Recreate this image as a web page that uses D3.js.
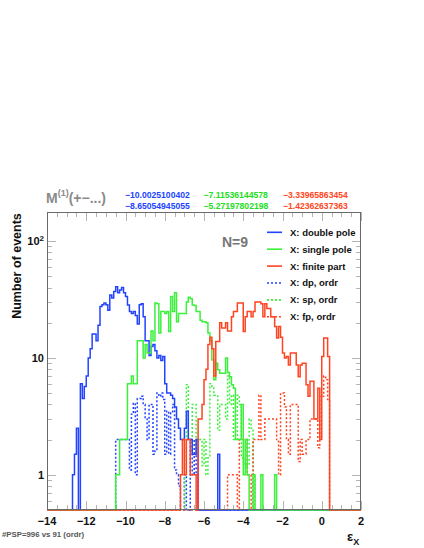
<!DOCTYPE html>
<html><head><meta charset="utf-8">
<script src="https://d3js.org/d3.v7.min.js"></script>
<style>
body{margin:0;background:#fff;}
text{font-family:"Liberation Sans",Arial,Helvetica,sans-serif;font-weight:bold;}
</style></head><body>
<svg id="chart" width="424" height="548"></svg>
<script>
// binning of the histograms
var xMin = -14, xMax = 2, binW = 0.1;
var xTicks = [-14, -12, -10, -8, -6, -4, -2, 0, 2];
var yTicks = [1, 10, 100];

// X: double pole
var dpStart = -12.7;
var dpCounts = [1, 1.5, 2.5, 0, 6, 4.5, 5.7, 7, 10, 12, 16, 16, 14, 19, 27.5, 28.5, 29.5, 28.5, 25.6, 34.5,
  32.5, 37, 40.6, 36, 38, 40, 36, 33.5, 28.4, 25, 24, 25, 23, 19.5, 28.5, 29, 22.5, 14, 14, 10.5,
  12.5, 13, 11.5, 10, 10.5, 9.5, 10.3, 6, 5, 5, 4.8, 4.5, 3.8, 3, 2.5, 2, 2, 2.5, 3.5, 2,
  2, 1.5, 1.5, 2, 0, 0, 0, 0, 0, 0, 0, 0, 0, 0, 1.5];
// X: single pole
var spStart = -10.5;
var spCounts = [1, 1, 2, 2, 2, 2, 6, 6, 7, 6,
  6, 14, 14, 14, 10, 13, 11, 11, 17, 14,
  29.5, 29, 16.3, 25, 25, 24, 25, 16.8, 33.5, 25,
  36, 20.4, 24, 24, 24, 24, 30, 33, 32, 28.4,
  28, 25, 25, 21, 20.4, 20.4, 20, 16.3, 14, 9.6,
  6.5, 9, 7.9, 7.4, 7.4, 7.4, 10, 7.5, 6.9, 5.9,
  5.5, 2, 2, 2, 4, 1, 2, 1, 0, 0,
  1, 0, 0, 0, 1, 0, 0, 0, 0, 0,
  0, 1];
// X: finite part
var fpStart = -7.2;
var fpCounts = [1, 2, 1, 2, 2, 1, 1, 1, 0, 3,
  3, 4, 6.5, 8, 13, 15, 12, 7, 13.8, 13.8,
  20, 18, 18, 20, 17, 17, 22.5, 25, 25, 29.5,
  29.5, 29.5, 16.8, 22.5, 25, 25, 22.5, 25, 30, 30,
  30, 29, 22.5, 29, 26.5, 26.5, 22.5, 22.5, 18.6, 14.8,
  18.6, 15, 11, 10, 10.3, 8.7, 11, 11, 11, 8.7,
  6.9, 8.7, 9, 9, 5.9, 4.7, 6.3, 6.3, 3, 3,
  5.5, 2, 10.3, 14.8, 14.8, 10.3];
// X: dp, ordr
var dpoStart = -10.5;
var dpoCounts = [2, 2, 2, 2, 2, 2, 2, 1.1, 3.3, 4.1,
  1, 4.5, 4.5, 4.7, 4, 3, 2, 4, 4, 1.5,
  1.6, 5, 4.7, 5, 4.4, 1.5, 3.5, 1.5, 3.4, 4,
  1.1, 1, 0.8, 0, 0, 1, 0, 0, 2, 1,
  2, 1];
// X: sp, ordr
var spoStart = -7.0;
var spoCounts = [1, 5.9, 2, 2, 4, 4, 1.5, 2, 2, 1.2,
  2, 1, 1.4, 6, 5.7, 4.8, 4.8, 2.4, 4, 4,
  4, 3, 7, 4, 4.8, 2, 2, 4.8, 4, 1.4,
  1.4, 1.2, 1.2, 3, 2.5, 1];
// X: fp, ordr
var fpoStart = -4.8;
var fpoCounts = [1, 1, 1, 1, 1, 0, 2, 2, 2, 2,
  1, 1, 0, 2, 2, 2, 4.8, 2, 2, 3,
  3, 3, 3, 3, 3, 2, 1, 5, 5, 3.8,
  2, 1.5, 4, 4, 4, 4, 1.3, 2, 1.5, 1.5,
  2, 2, 3, 3, 3, 3, 1.7, 4.7, 4.7, 7,
  6.5, 4.4];

var legendLabels = ["X: double pole", "X: single pole", "X: finite part", "X: dp, ordr", "X: sp, ordr", "X: fp, ordr"];
var headTop = ["\u221210.0025100402", "\u22127.11536144578", "\u22123.33965863454"];
var headBottom = ["\u22128.65054945055", "\u22125.27197802198", "\u22121.42362637363"];

var BLUE = "#2244ff", GREEN = "#3cf03c", RED = "#ff4422";
var L = 47, R = 361, T = 212, B = 510;

var svg = d3.select("#chart");
var x = d3.scaleLinear().domain([xMin, xMax]).range([L, R]);
var y = d3.scaleLog().domain([0.5, 177]).range([B, T]);

svg.append("rect").attr("width", 424).attr("height", 548).attr("fill", "#fff");

svg.append("clipPath").attr("id", "frame")
  .append("rect").attr("x", L).attr("y", T - 1).attr("width", R - L).attr("height", B - T + 2);

// step line over every bin, empty bins sit on the bottom of the frame
function histPath(start, counts) {
  var n = Math.round((xMax - xMin) / binW);
  var off = Math.round((start - xMin) / binW);
  var d = "";
  for (var i = 0; i < n; i++) {
    var v = (i >= off && i - off < counts.length) ? counts[i - off] : 0;
    var yy = v > 0.5 ? y(v) : B;
    var x0 = x(xMin + i * binW), x1 = x(xMin + (i + 1) * binW);
    d += (i == 0 ? "M" + x0.toFixed(2) + "," + yy.toFixed(2) : "V" + yy.toFixed(2)) + "H" + x1.toFixed(2);
  }
  return d;
}

// ticks
var tickCol = "#b4b4b4";
var g = svg.append("g").attr("stroke", tickCol).attr("stroke-width", 1);
for (var t = xMin; t <= xMax + 1e-9; t += 0.5) {
  var major = Math.abs(t % 2) < 1e-9;
  var len = major ? 9 : 5;
  var xx = Math.round(x(t)) + 0.5;
  g.append("line").attr("x1", xx).attr("x2", xx).attr("y1", B).attr("y2", B - len);
  g.append("line").attr("x1", xx).attr("x2", xx).attr("y1", T).attr("y2", T + len);
}
[0.1, 1, 10, 100].forEach(function (dec) {
  for (var k = 1; k < 10; k++) {
    var v = dec * k;
    if (v < 0.5 || v > 177) continue;
    var len = k == 1 ? 9 : 5;
    var yy = Math.round(y(v)) + 0.5;
    g.append("line").attr("x1", L).attr("x2", L + len).attr("y1", yy).attr("y2", yy);
    g.append("line").attr("x1", R).attr("x2", R - len).attr("y1", yy).attr("y2", yy);
  }
});

// histograms
var series = [
  {s: dpoStart, c: dpoCounts, col: BLUE, dash: "2,2"},
  {s: spoStart, c: spoCounts, col: GREEN, dash: "2,2"},
  {s: fpoStart, c: fpoCounts, col: RED, dash: "2,2"},
  {s: dpStart, c: dpCounts, col: BLUE, dash: null},
  {s: spStart, c: spCounts, col: GREEN, dash: null},
  {s: fpStart, c: fpCounts, col: RED, dash: null}
];
var hg = svg.append("g").attr("clip-path", "url(#frame)");
series.forEach(function (d) {
  hg.append("path").attr("d", histPath(d.s, d.c))
    .attr("fill", "none").attr("stroke", d.col).attr("stroke-width", 1.5)
    .attr("stroke-dasharray", d.dash);
});

// frame
svg.append("rect").attr("x", L + 0.5).attr("y", T + 0.5).attr("width", R - L - 1).attr("height", B - T - 1)
  .attr("fill", "none").attr("stroke", "#6a6a6a").attr("stroke-width", 1);

// tick labels
svg.selectAll(".xl").data(xTicks).enter().append("text")
  .attr("x", function (d) { return x(d); }).attr("y", 525)
  .attr("text-anchor", "middle").attr("font-size", 11).attr("fill", "#111")
  .text(function (d) { return d < 0 ? "\u2212" + (-d) : d; });

var yl = svg.selectAll(".yl").data(yTicks).enter().append("text")
  .attr("x", 44).attr("y", function (d) { return y(d) + 4; })
  .attr("text-anchor", "end").attr("font-size", 11).attr("fill", "#111");
yl.each(function (d) {
  var s = d3.select(this);
  if (d == 100) {
    s.append("tspan").text("10");
    s.append("tspan").attr("dy", -4).attr("font-size", 8).text("2");
  } else s.text(d);
});

// axis titles
svg.append("text").attr("transform", "translate(21,266) rotate(-90)")
  .attr("text-anchor", "middle").attr("font-size", 12.5).attr("fill", "#111").text("Number of events");
var xt = svg.append("text").attr("x", 347).attr("y", 541).attr("font-size", 13).attr("fill", "#111");
xt.append("tspan").text("\u03b5");
xt.append("tspan").attr("dy", 4).attr("font-size", 9).text("X");

svg.append("text").attr("x", 2).attr("y", 537).attr("font-size", 7.8).attr("fill", "#555")
  .text("#PSP=996 vs 91 (ordr)");

// header
var hd = svg.append("text").attr("x", 46).attr("y", 203).attr("fill", "#8a8a8a").attr("font-size", 14);
hd.append("tspan").text("M");
hd.append("tspan").attr("dy", -7).attr("font-size", 9).text("(1)");
hd.append("tspan").attr("dy", 7).text("(+\u2212...)");

var colX = [125, 203.5, 283], colC = [BLUE, "#22dd22", RED];
headTop.forEach(function (s, i) {
  svg.append("text").attr("x", colX[i]).attr("y", 197.5).attr("font-size", 8.6).attr("fill", colC[i]).text(s);
  svg.append("text").attr("x", colX[i]).attr("y", 209).attr("font-size", 8.6).attr("fill", colC[i]).text(headBottom[i]);
});

svg.append("text").attr("x", 222).attr("y", 246.5).attr("font-size", 14).attr("fill", "#777").text("N=9");

// legend
var legCol = [BLUE, GREEN, RED, BLUE, GREEN, RED];
legendLabels.forEach(function (lab, i) {
  var yy = 232.3 + i * 16.9;
  svg.append("line").attr("x1", 267).attr("x2", 282).attr("y1", yy).attr("y2", yy)
    .attr("stroke", legCol[i]).attr("stroke-width", 1.6)
    .attr("stroke-dasharray", i > 2 ? "2,2" : null);
  svg.append("text").attr("x", 290).attr("y", yy + 3.4).attr("font-size", 9.5).attr("fill", "#111").text(lab);
});
</script>
</body></html>
